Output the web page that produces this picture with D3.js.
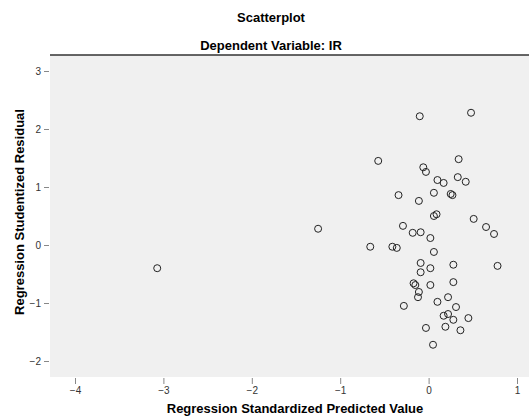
<!DOCTYPE html>
<html>
<head>
<meta charset="utf-8">
<script src="https://cdn.jsdelivr.net/npm/d3@7"></script>
<style>
  body { margin: 0; background: #fff; }
  text { font-family: Arial, "Liberation Sans", sans-serif; }
</style>
</head>
<body>
<div id="chart"></div>
<script>
// predicted values (standardized) and studentized residuals
let predicted = [
  -0.10, 0.48, -0.57, -0.06, -0.03, 0.34, 0.10, 0.17, 0.33, 0.42,
  0.06, 0.27, 0.25, -0.34, -0.11, 0.06, 0.09, 0.51, 0.65, 0.74,
  -0.29, -0.18, -0.09, 0.02, -1.25, -0.66, -0.41, -0.36, 0.06, -0.09,
  -0.09, 0.02, 0.28, 0.78, 0.28, -0.15, -0.11, -0.12, -0.17, 0.02,
  -0.28, 0.10, 0.22, 0.31, 0.17, 0.22, 0.28, 0.45, 0.19, 0.36,
  -0.03, 0.05, -3.07
];
let residuals = [
  2.22, 2.28, 1.45, 1.34, 1.26, 1.48, 1.12, 1.07, 1.17, 1.09,
  0.90, 0.86, 0.88, 0.86, 0.76, 0.50, 0.53, 0.45, 0.31, 0.19,
  0.33, 0.21, 0.22, 0.12, 0.28, -0.03, -0.03, -0.05, -0.12, -0.31,
  -0.47, -0.40, -0.34, -0.36, -0.64, -0.69, -0.81, -0.90, -0.66, -0.69,
  -1.05, -0.98, -0.90, -1.07, -1.22, -1.19, -1.29, -1.26, -1.41, -1.47,
  -1.43, -1.72, -0.40
];
let xTicks = [-4, -3, -2, -1, 0, 1];
let yTicks = [3, 2, 1, 0, -1, -2];

let svgWidth = 529;
let svgHeight = 416;

// plot area
let plot = { left: 50, right: 529, top: 55, bottom: 377 };

let x = d3.scaleLinear().domain([-4, 1]).range([75, 517]);
let y = d3.scaleLinear().domain([-2, 3]).range([361, 71]);

let svg = d3.select("#chart")
    .append("svg")
    .attr("width", svgWidth)
    .attr("height", svgHeight);

// titles
svg.append("text")
    .attr("x", 271).attr("y", 22)
    .attr("text-anchor", "middle")
    .style("font-size", "13px").style("font-weight", "bold")
    .text("Scatterplot");

svg.append("text")
    .attr("x", 271).attr("y", 50)
    .attr("text-anchor", "middle")
    .style("font-size", "13px").style("font-weight", "bold")
    .text("Dependent Variable: IR");

// background
svg.append("rect")
    .attr("x", plot.left).attr("y", plot.top)
    .attr("width", plot.right - plot.left)
    .attr("height", plot.bottom - plot.top)
    .attr("fill", "#f0f0f0");

// top frame line
svg.append("line")
    .attr("x1", plot.left).attr("x2", plot.right)
    .attr("y1", plot.top).attr("y2", plot.top)
    .attr("stroke", "#333").attr("stroke-width", 1.5);

// x axis
let xAxis = d3.axisBottom(x).tickValues(xTicks).tickSize(6).tickPadding(3)
    .tickFormat(d3.format("d"));
let gx = svg.append("g")
    .attr("transform", "translate(0," + (plot.bottom + 1) + ")")
    .call(xAxis);
gx.select(".domain").remove();
gx.selectAll("line").attr("stroke", "#888");
gx.selectAll("text").style("font-size", "10px").attr("fill", "#333");

// y axis
let yAxis = d3.axisLeft(y).tickValues(yTicks).tickSize(5).tickPadding(3)
    .tickFormat(d3.format("d"));
let gy = svg.append("g")
    .attr("transform", "translate(" + (plot.left - 1) + ",0)")
    .call(yAxis);
gy.select(".domain").remove();
gy.selectAll("line").attr("stroke", "#888");
gy.selectAll("text").style("font-size", "10px").attr("fill", "#333");

// axis titles
svg.append("text")
    .attr("x", 295).attr("y", 413)
    .attr("text-anchor", "middle")
    .style("font-size", "13px").style("font-weight", "bold")
    .text("Regression Standardized Predicted Value");

svg.append("text")
    .attr("transform", "translate(24,212) rotate(-90)")
    .attr("text-anchor", "middle")
    .style("font-size", "13px").style("font-weight", "bold")
    .text("Regression Studentized Residual");

// points
let points = predicted.map(function(d, i) { return { x: d, y: residuals[i] }; });
svg.selectAll("circle.pt")
    .data(points)
    .enter()
    .append("circle")
    .attr("class", "pt")
    .attr("cx", function(d) { return x(d.x) })
    .attr("cy", function(d) { return y(d.y) })
    .attr("r", 3.5)
    .attr("fill", "none")
    .attr("stroke", "#222")
    .attr("stroke-width", 1);
</script>
</body>
</html>
